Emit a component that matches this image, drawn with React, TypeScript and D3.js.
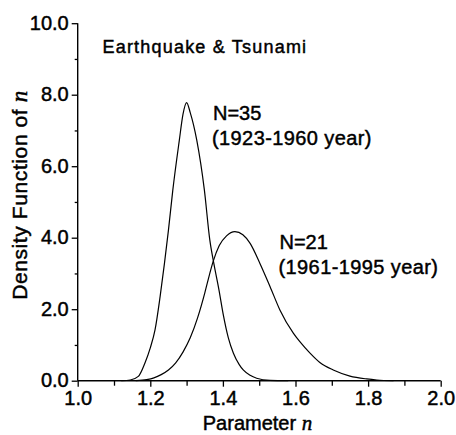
import React, { useEffect, useRef } from 'react';
import * as d3 from 'd3';

// N=35 (1923-1960 year) curve
const nA = [1.12, 1.145, 1.167, 1.185, 1.2, 1.213, 1.227, 1.239, 1.25, 1.262, 1.28, 1.29, 1.3, 1.31, 1.328, 1.349, 1.364, 1.375, 1.389, 1.401, 1.415, 1.429, 1.445, 1.456, 1.475, 1.493, 1.53, 1.58];
const densA = [0, 0.02, 0.12, 0.49, 0.92, 1.42, 2.35, 3.28, 4.21, 5.33, 6.73, 7.45, 7.78, 7.5, 6.73, 5.33, 3.93, 3.28, 2.55, 1.85, 1.2, 0.77, 0.45, 0.3, 0.15, 0.07, 0.01, 0];

// N=21 (1961-1995 year) curve
const nB = [1.16, 1.19, 1.21, 1.23, 1.25, 1.27, 1.29, 1.31, 1.33, 1.35, 1.36, 1.373, 1.39, 1.41, 1.433, 1.455, 1.475, 1.502, 1.53, 1.557, 1.594, 1.612, 1.64, 1.668, 1.704, 1.75, 1.796, 1.824, 1.87];
const densB = [0, 0.03, 0.08, 0.17, 0.3, 0.5, 0.8, 1.2, 1.75, 2.45, 2.85, 3.33, 3.78, 4.05, 4.17, 4.08, 3.84, 3.28, 2.63, 1.98, 1.33, 1.09, 0.77, 0.5, 0.3, 0.13, 0.05, 0.02, 0];

const xTicks = [1.0, 1.2, 1.4, 1.6, 1.8, 2.0];
const xMinor = [1.1, 1.3, 1.5, 1.7, 1.9];
const yTicks = [0, 2, 4, 6, 8, 10];
const yMinor = [1, 3, 5, 7, 9];

const FONT = '"Liberation Sans", Arial, sans-serif';

const Chart = () => {
  const svgRef = useRef<SVGSVGElement>(null);

  useEffect(() => {
    const svg = d3.select(svgRef.current);
    svg.selectAll('*').remove();

    const x = d3.scaleLinear().domain([1, 2]).range([77.7, 440.7]);
    const y = d3.scaleLinear().domain([0, 10]).range([380.7, 23.2]);

    // y axis
    const gy = svg.append('g').attr('transform', `translate(${x(1)},0)`);
    gy.call(d3.axisLeft(y).tickValues(yTicks).tickSize(6).tickFormat(d3.format('.1f')));
    gy.append('g').call(d3.axisLeft(y).tickValues(yMinor).tickSize(3).tickFormat(() => ''));
    gy.selectAll('line').attr('stroke-width', 1.3);
    gy.selectAll('text')
      .attr('font-family', FONT)
      .attr('font-size', 20)
      .attr('fill', '#000')
      .attr('stroke', '#000')
      .attr('stroke-width', 0.45)
      .attr('x', -9)
      .attr('dy', '0.3em');

    // x axis
    const gx = svg.append('g').attr('transform', `translate(0,${y(0)})`);
    gx.call(d3.axisBottom(x).tickValues(xTicks).tickSize(6).tickFormat(d3.format('.1f')));
    gx.append('g').call(d3.axisBottom(x).tickValues(xMinor).tickSize(5).tickFormat(() => ''));
    gx.selectAll('line').attr('stroke-width', 1.3);
    gx.selectAll('text')
      .attr('font-family', FONT)
      .attr('font-size', 20)
      .attr('fill', '#000')
      .attr('stroke', '#000')
      .attr('stroke-width', 0.45)
      .attr('y', 9)
      .attr('dy', '0.75em');
    svg.selectAll('.domain').attr('d', null);
    gy.select('.domain').attr('d', `M0,${y(10)}V${y(0)}`).attr('stroke-width', 1.4);
    gx.select('.domain').attr('d', `M${x(1)},0H${x(2)}`).attr('stroke-width', 1.4);

    // curves
    const line = d3.line<[number, number]>()
      .x(d => x(d[0]))
      .y(d => y(d[1]))
      .curve(d3.curveMonotoneX);

    const series = [
      nA.map((n, i) => [n, densA[i]] as [number, number]),
      nB.map((n, i) => [n, densB[i]] as [number, number]),
    ];
    svg.append('g')
      .selectAll('path')
      .data(series)
      .join('path')
      .attr('d', d => line(d))
      .attr('fill', 'none')
      .attr('stroke', '#000')
      .attr('stroke-width', 1.2);

    // labels
    const txt = (tx: number, ty: number, s: string, size = 20, ls = 0) =>
      svg.append('text')
        .attr('x', tx)
        .attr('y', ty)
        .attr('font-family', FONT)
        .attr('font-size', size)
        .attr('letter-spacing', ls)
        .attr('stroke', '#000')
        .attr('stroke-width', 0.45)
        .text(s);

    txt(102.5, 53.3, 'Earthquake & Tsunami', 18, 1.2);
    txt(213, 120, 'N=35');
    txt(212, 144.5, '(1923-1960 year)', 20, 0.4);
    txt(279.5, 248.5, 'N=21');
    txt(278.5, 273.5, '(1961-1995 year)', 20, 0.4);

    const xl = svg.append('text')
      .attr('x', 257.5)
      .attr('y', 430)
      .attr('text-anchor', 'middle')
      .attr('font-family', FONT)
      .attr('font-size', 20)
      .attr('stroke', '#000')
      .attr('stroke-width', 0.45)
      .text('Parameter ');
    xl.append('tspan')
      .attr('font-family', '"Liberation Serif", serif')
      .attr('font-style', 'italic')
      .attr('font-size', 21)
      .text('n');

    const yl = svg.append('text')
      .attr('transform', 'translate(26.5,195) rotate(-90)')
      .attr('text-anchor', 'middle')
      .attr('font-family', FONT)
      .attr('font-size', 21)
      .attr('letter-spacing', 0.6)
      .attr('stroke', '#000')
      .attr('stroke-width', 0.45)
      .text('Density Function of ');
    yl.append('tspan')
      .attr('font-family', '"Liberation Serif", serif')
      .attr('font-style', 'italic')
      .attr('font-size', 23)
      .text('n');
  }, []);

  return <svg ref={svgRef} width={456} height={435} style={{ display: 'block' }} />;
};

export default function App() {
  return (
    <div style={{ position: 'fixed', left: 0, top: 0, background: '#fff' }}>
      <Chart />
    </div>
  );
}
